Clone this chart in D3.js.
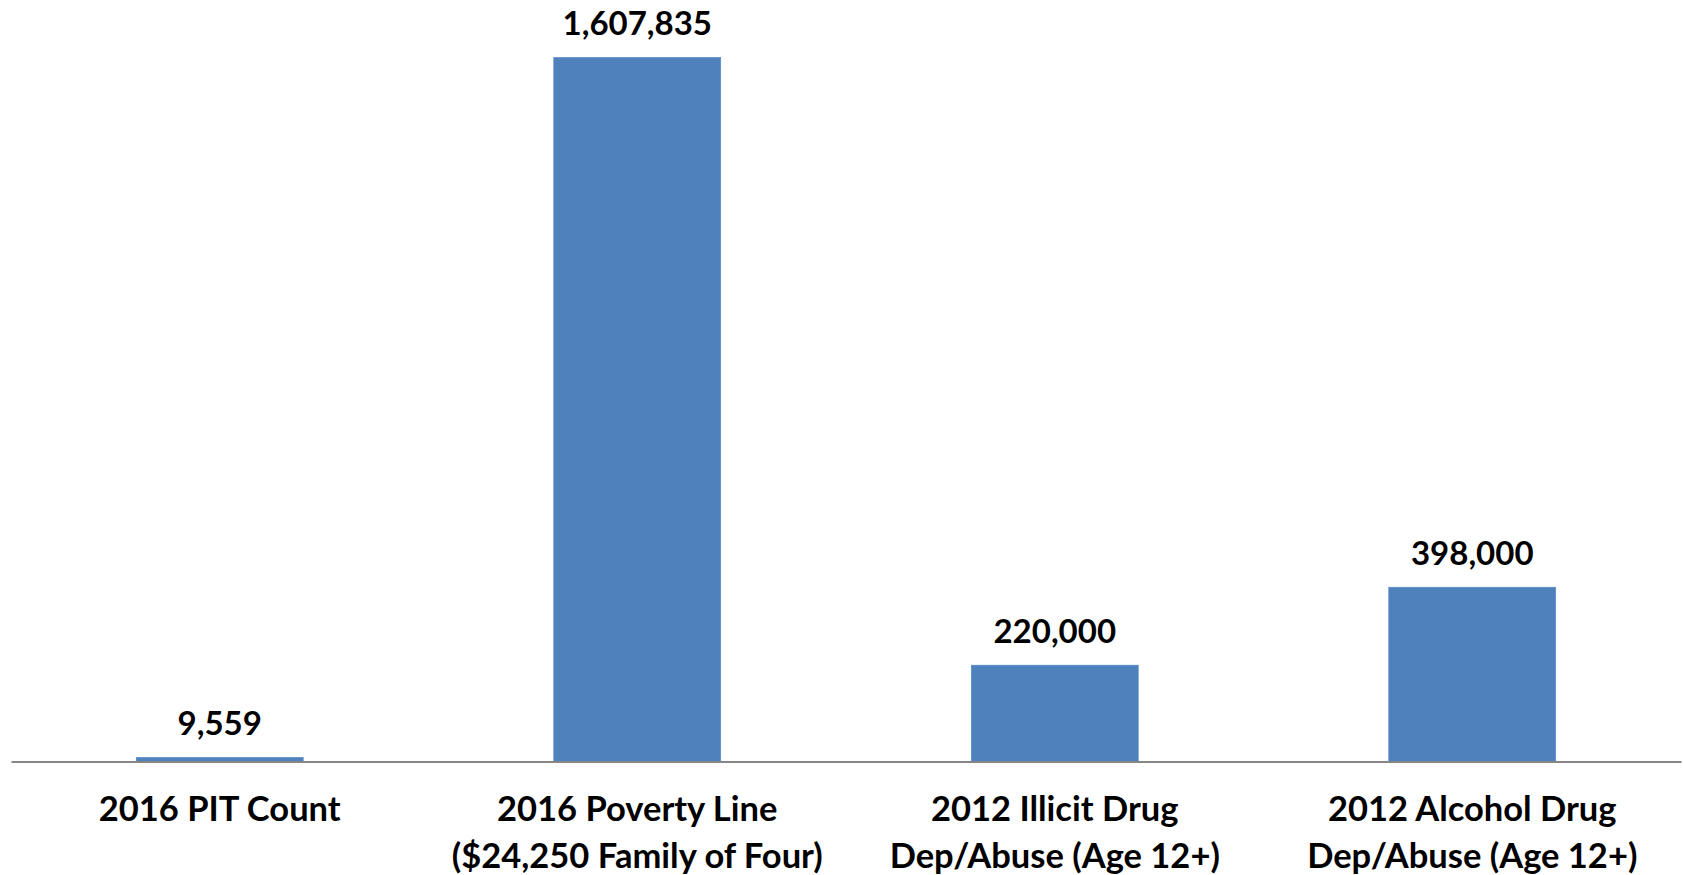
<!DOCTYPE html>
<html>
<head>
<meta charset="utf-8">
<script src="https://cdn.jsdelivr.net/npm/d3@7"></script>
<style>
  body { margin: 0; background: #fff; }
  svg { display: block; }
  text { font-family: Lato, "Open Sans", sans-serif; font-weight: bold; fill: #000; }
</style>
</head>
<body>
<svg id="chart" width="1683" height="875"></svg>
<script>
// data
const categories = ["2016 PIT Count", "2016 Poverty Line ($24,250 Family of Four)", "2012 Illicit Drug Dep/Abuse (Age 12+)", "2012 Alcohol Drug Dep/Abuse (Age 12+)"];
const labelLines = [["2016 PIT Count"], ["2016 Poverty Line", "($24,250 Family of Four)"], ["2012 Illicit Drug", "Dep/Abuse (Age 12+)"], ["2012 Alcohol Drug", "Dep/Abuse (Age 12+)"]];
const values = [9559, 1607835, 220000, 398000];

const svg = d3.select("#chart");
const baseY = 761.5;

// x axis - one band per category
let xAxis = d3.scaleBand()
  .domain(categories)
  .range([11, 1681])
  .paddingInner(0.6)
  .paddingOuter(0.3);

let yAxis = d3.scaleLinear()
  .domain([0, 1700000])
  .range([baseY, 17]);

const rows = categories.map((c, i) => ({ cat: c, lines: labelLines[i], value: values[i] }));

// bars
svg.append("g")
  .selectAll("rect")
  .data(rows)
  .join("rect")
  .attr("x", d => xAxis(d.cat))
  .attr("width", xAxis.bandwidth())
  .attr("y", d => yAxis(d.value))
  .attr("height", d => baseY - yAxis(d.value))
  .attr("fill", "#4F81BD")
  .attr("stroke", "#5A8CC6")
  .attr("stroke-width", 0.6);

// value labels above bars
const fmt = d3.format(",");
svg.append("g")
  .selectAll("text")
  .data(rows)
  .join("text")
  .attr("x", d => xAxis(d.cat) + xAxis.bandwidth() / 2)
  .attr("y", d => yAxis(d.value) - 22)
  .attr("text-anchor", "middle")
  .style("font-size", "33px")
  .text(d => fmt(d.value));

// category axis along the bottom
const gx = svg.append("g")
  .attr("transform", "translate(0," + baseY + ")")
  .call(d3.axisBottom(xAxis).tickSize(0).tickSizeOuter(0));

gx.select(".domain")
  .attr("stroke", "#868686")
  .attr("stroke-width", 2);

gx.selectAll(".tick text")
  .attr("y", 0)
  .attr("dy", null)
  .style("font-size", "34.5px")
  .attr("fill", "#000")
  .text("")
  .each(function (d, i) {
    d3.select(this).selectAll("tspan")
      .data(labelLines[i])
      .join("tspan")
      .attr("x", 0)
      .attr("y", (line, j) => 59.5 + j * 47)
      .text(line => line);
  });
</script>
</body>
</html>
